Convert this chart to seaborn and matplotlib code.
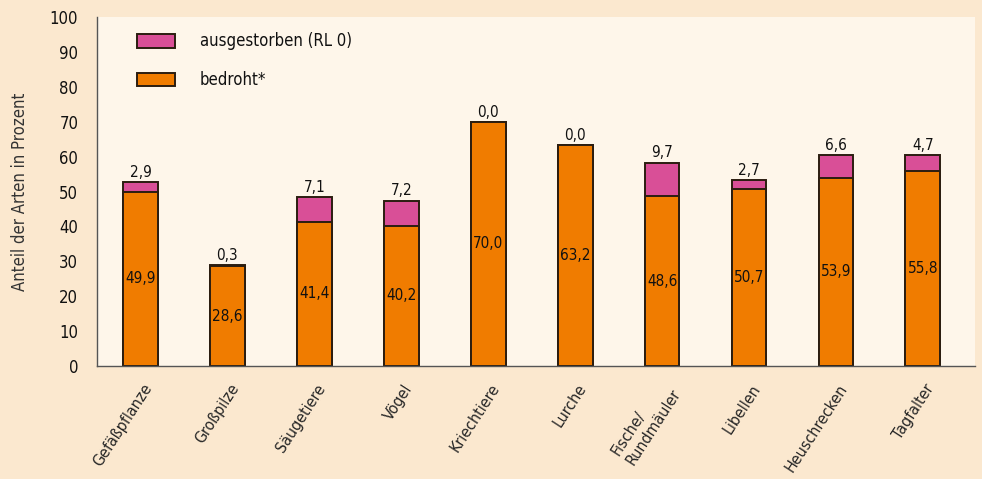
import matplotlib.pyplot as plt
import matplotlib.transforms as mtransforms
import seaborn as sns
import pandas as pd

# Data
gruppen = ["Gefäßpflanze", "Großpilze", "Säugetiere", "Vögel", "Kriechtiere",
           "Lurche", "Fische/\nRundmäuler", "Libellen", "Heuschrecken", "Tagfalter"]
bedroht = [49.9, 28.6, 41.4, 40.2, 70.0, 63.2, 48.6, 50.7, 53.9, 55.8]
ausgestorben = [2.9, 0.3, 7.1, 7.2, 0.0, 0.0, 9.7, 2.7, 6.6, 4.7]

df = pd.DataFrame({"gruppe": gruppen, "bedroht": bedroht, "ausgestorben": ausgestorben})
df["gesamt"] = df["bedroht"] + df["ausgestorben"]

sns.set_style("white")
plt.rcParams["font.family"] = ["DejaVu Sans"]
plt.rcParams["font.stretch"] = "condensed"
plt.rcParams["text.color"] = "#111111"

orange = "#f07c00"
pink = "#d94f97"
edge = "#2b1d10"

fig = plt.figure(figsize=(9.82, 4.79), dpi=100, facecolor="#fbe8cf")
ax = fig.add_axes([0.0988, 0.2359, 0.8941, 0.7286])
ax.set_facecolor("#fef6ea")

sns.barplot(data=df, x="gruppe", y="gesamt", color=pink, width=0.4,
            edgecolor=edge, linewidth=1.4, saturation=1, ax=ax, label="ausgestorben (RL 0)")
sns.barplot(data=df, x="gruppe", y="bedroht", color=orange, width=0.4,
            edgecolor=edge, linewidth=1.4, saturation=1, ax=ax, label="bedroht*")

ax.bar_label(ax.containers[0], labels=[f"{v:.1f}".replace(".", ",") for v in ausgestorben],
             padding=1.5, fontsize=11, color="#111111")
ax.bar_label(ax.containers[1], labels=[f"{v:.1f}".replace(".", ",") for v in bedroht],
             label_type="center", fontsize=11, color="#111111")

ax.set_ylim(0, 100)
ax.set_xlim(-0.43, 9.6)
ax.set_yticks(range(0, 101, 10))
ax.set_ylabel("Anteil der Arten in Prozent", fontsize=12, color="#333333")
ax.yaxis.set_label_coords(-0.078, 0.5)
ax.set_xlabel("")

ax.set_xticks(range(len(gruppen)))
ax.set_xticklabels(gruppen, rotation=57, ha="right", va="center",
                   rotation_mode="anchor", fontsize=11.5)
ax.tick_params(axis="x", length=0, pad=14)
shift = mtransforms.ScaledTranslation(0.08, 0, fig.dpi_scale_trans)
for lab in ax.get_xticklabels():
    lab.set_transform(lab.get_transform() + shift)
    lab.set_multialignment("left")
ax.set_xticks([i - 0.5 for i in range(len(gruppen))] + [9.6], minor=True)
ax.tick_params(axis="x", which="minor", length=6, width=1, color="#555555", direction="out")
ax.tick_params(axis="y", length=6.5, width=1, color="#555555", labelcolor="#111111",
               labelsize=12, pad=7, direction="out")

for s in ["top", "right"]:
    ax.spines[s].set_visible(False)
for s in ["left", "bottom"]:
    ax.spines[s].set_color("#555555")
    ax.spines[s].set_linewidth(1)

ax.legend(loc="upper left", bbox_to_anchor=(0.028, 0.999), frameon=False, fontsize=12,
          handlelength=2.3, handleheight=0.9, handletextpad=1.5, labelspacing=1.25)

fig.savefig("out.png", dpi=100, facecolor=fig.get_facecolor())
